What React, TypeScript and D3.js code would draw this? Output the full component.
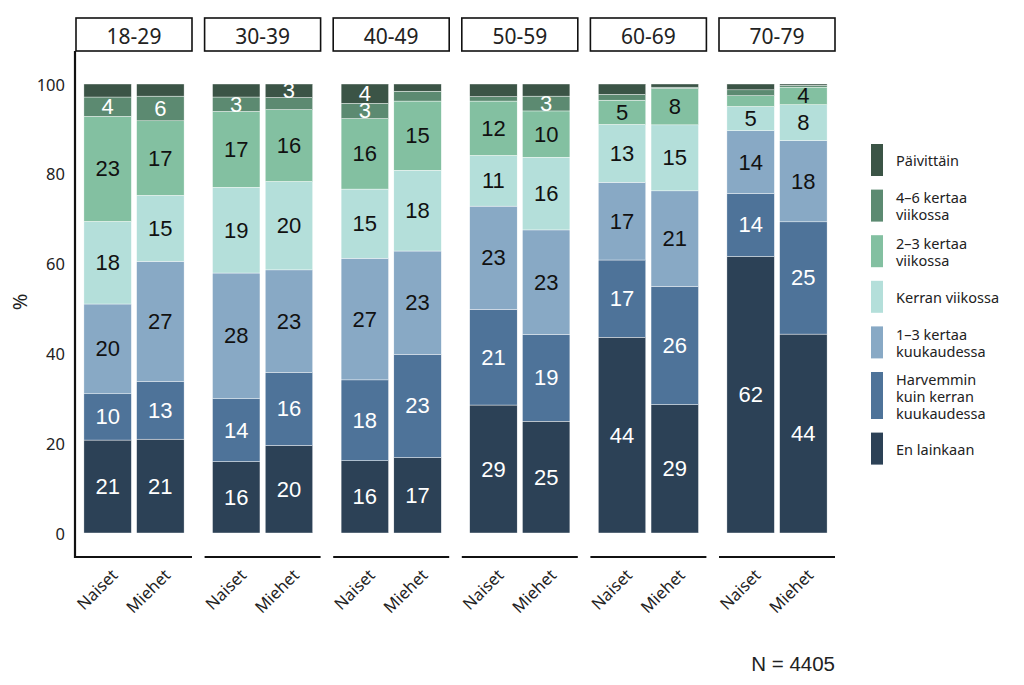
import React from "react";
import * as d3 from "d3";

const ageGroups = ["18-29", "30-39", "40-49", "50-59", "60-69", "70-79"];
const genders = ["Naiset", "Miehet"];

// Stack order (bottom -> top)
const stackKeys = ["en", "harv", "kk13", "kerran", "vk23", "vk46", "paiv"];
const legendOrder = ["paiv", "vk46", "vk23", "kerran", "kk13", "harv", "en"];
const legendLabels: Record<string, string[]> = {
  paiv: ["Päivittäin"],
  vk46: ["4–6 kertaa", "viikossa"],
  vk23: ["2–3 kertaa", "viikossa"],
  kerran: ["Kerran viikossa"],
  kk13: ["1–3 kertaa", "kuukaudessa"],
  harv: ["Harvemmin", "kuin kerran", "kuukaudessa"],
  en: ["En lainkaan"],
};
const colors: Record<string, string> = {
  paiv: "#3b5446",
  vk46: "#5c8a71",
  vk23: "#83c0a1",
  kerran: "#b4dfda",
  kk13: "#88a9c5",
  harv: "#4e7399",
  en: "#2c4156",
};
const whiteText = new Set(["en", "harv", "vk46", "paiv"]);

// Values (%) in order: 18-29 Naiset, 18-29 Miehet, 30-39 Naiset, ...
const enLainkaan = [20.7, 20.9, 15.9, 19.5, 16.1, 16.8, 28.5, 24.9, 43.6, 28.6, 61.6, 44.3];
const harvemmin = [10.3, 12.8, 14.0, 16.3, 18.0, 23.0, 21.3, 19.3, 17.2, 26.3, 14.0, 25.0];
const kk13 = [20.0, 26.8, 28.0, 22.8, 27.1, 23.0, 23.0, 23.3, 17.3, 21.3, 14.0, 18.1];
const kerranViikossa = [18.4, 14.7, 19.1, 19.7, 15.4, 18.0, 11.3, 16.2, 12.9, 14.7, 5.4, 8.0];
const vk23 = [23.4, 16.6, 16.9, 16.0, 15.7, 15.4, 12.1, 10.3, 5.4, 8.1, 2.4, 3.9];
const vk46 = [4.3, 5.5, 3.2, 2.7, 3.4, 2.2, 1.0, 3.3, 1.3, 0.3, 1.3, 0.4];
const paivittain = [2.9, 2.7, 2.9, 3.0, 4.3, 1.6, 2.8, 2.7, 2.3, 0.7, 1.3, 0.3];

const yTicks = [0, 20, 40, 60, 80, 100];
const nLabel = "N = 4405";

const uiFont = "'Noto Sans', sans-serif";
const numFont = "'Liberation Sans', Arial, sans-serif";

type Row = { age: string; gender: string; [k: string]: any };

export default function App() {
  const rows: Row[] = [];
  ageGroups.forEach((a, i) =>
    genders.forEach((g, j) => {
      const k = i * 2 + j;
      rows.push({
        age: a,
        gender: g,
        en: enLainkaan[k],
        harv: harvemmin[k],
        kk13: kk13[k],
        kerran: kerranViikossa[k],
        vk23: vk23[k],
        vk46: vk46[k],
        paiv: paivittain[k],
      });
    })
  );
  const series = d3.stack<Row>().keys(stackKeys)(rows);

  const panelX = d3.scaleBand<string>().domain(ageGroups).range([76, 835]).paddingInner(0.098);
  const pw = panelX.bandwidth();
  const barX = d3.scaleBand<string>().domain(genders).range([0, pw]).paddingInner(0.1).paddingOuter(0.15);
  const y = d3.scaleLinear().domain([0, 100]).range([533, 84]);

  const axisY = 557;
  const stripTop = 18;
  const stripH = 33;

  // legend layout
  const legendItems: { key: string; top: number; h: number }[] = [];
  let ly = 144;
  legendOrder.forEach((k) => {
    const h = legendLabels[k].length > 2 ? 47 : 32;
    legendItems.push({ key: k, top: ly, h });
    ly += h + 13.6;
  });

  return (
    <svg width={1024} height={685} style={{ display: "block", position: "absolute", left: 0, top: 0 }}>
      <rect x={0} y={0} width={1024} height={685} fill="#ffffff" />
      {/* y axis title */}
      <text
        transform={`translate(19,302) rotate(-90)`}
        textAnchor="middle"
        dominantBaseline="central"
        fontFamily={uiFont}
        fontSize={20}
        fill="#222"
      >
        %
      </text>
      {/* y ticks */}
      {yTicks.map((t) => (
        <text
          key={t}
          x={65}
          y={y(t)}
          textAnchor="end"
          dominantBaseline="central"
          fontFamily={uiFont}
          fontSize={16.5}
          fill="#222"
        >
          {t}
        </text>
      ))}
      {/* left axis line */}
      <line x1={75} x2={75} y1={stripTop + stripH} y2={axisY + 1} stroke="#111" strokeWidth={2.2} />
      {ageGroups.map((a) => {
        const px = panelX(a)!;
        return (
          <g key={a}>
            <rect x={px} y={stripTop} width={pw} height={stripH} fill="#fff" stroke="#111" strokeWidth={1.6} />
            <text
              x={px + pw / 2}
              y={stripTop + stripH / 2 + 1}
              textAnchor="middle"
              dominantBaseline="central"
              fontFamily={uiFont}
              fontSize={21}
              fill="#222"
            >
              {a}
            </text>
            <line x1={a === ageGroups[0] ? 74 : px} x2={px + pw} y1={axisY} y2={axisY} stroke="#111" strokeWidth={2.2} />
            {genders.map((g) => {
              const cx = px + barX(g)! + barX.bandwidth() / 2;
              return (
                <text
                  key={g}
                  transform={`translate(${cx + 1},${axisY + 9}) rotate(-45)`}
                  textAnchor="end"
                  dominantBaseline="hanging"
                  fontFamily={uiFont}
                  fontSize={16.5}
                  fill="#222"
                >
                  {g}
                </text>
              );
            })}
          </g>
        );
      })}
      {/* bars */}
      {series.map((s) => (
        <g key={s.key}>
          {s.map((d, i) => {
            const r = rows[i];
            const x0 = panelX(r.age)! + barX(r.gender)!;
            const y0 = y(d[1]);
            const h = y(d[0]) - y(d[1]);
            return (
              <rect
                key={i}
                x={x0}
                y={y0}
                width={barX.bandwidth()}
                height={h}
                fill={colors[s.key]}
                stroke="#ffffff"
                strokeWidth={0.4}
              />
            );
          })}
        </g>
      ))}
      {/* value labels */}
      {series.map((s) => (
        <g key={"l" + s.key}>
          {s.map((d, i) => {
            const v = d[1] - d[0];
            if (v < 3) return null;
            const r = rows[i];
            const cx = panelX(r.age)! + barX(r.gender)! + barX.bandwidth() / 2;
            const cy = (y(d[0]) + y(d[1])) / 2;
            return (
              <text
                key={i}
                x={cx}
                y={cy}
                textAnchor="middle"
                dominantBaseline="central"
                fontFamily={numFont}
                fontSize={22}
                fill={whiteText.has(s.key) ? "#ffffff" : "#111111"}
              >
                {Math.round(v)}
              </text>
            );
          })}
        </g>
      ))}
      {/* legend */}
      {legendItems.map((it) => {
        const lines = legendLabels[it.key];
        const cy = it.top + it.h / 2;
        const lh = 17;
        return (
          <g key={it.key}>
            <rect x={871} y={it.top} width={12} height={it.h} fill={colors[it.key]} />
            <text fontFamily={uiFont} fontSize={14.5} fill="#222" dominantBaseline="central">
              {lines.map((ln, j) => (
                <tspan key={j} x={896} y={cy + (j - (lines.length - 1) / 2) * lh}>
                  {ln}
                </tspan>
              ))}
            </text>
          </g>
        );
      })}
      <text x={835} y={671} textAnchor="end" fontFamily={numFont} fontSize={20.5} fill="#222">
        {nLabel}
      </text>
    </svg>
  );
}
